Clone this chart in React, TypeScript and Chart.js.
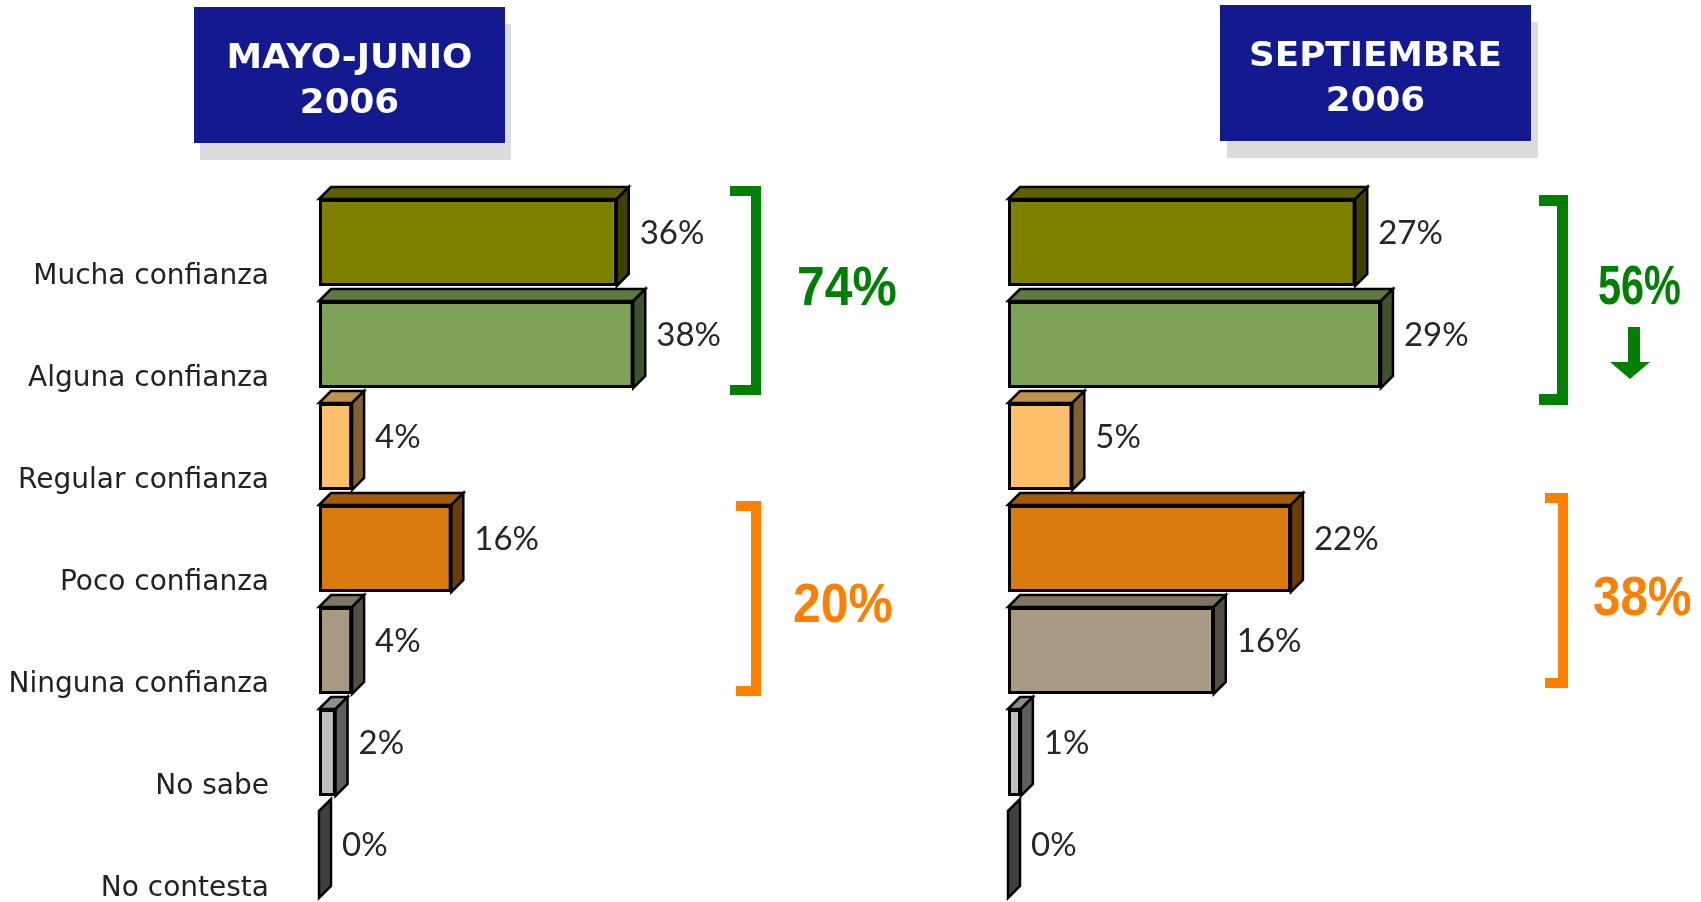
import React, { useEffect, useRef } from "react";
import { Chart, registerables } from "chart.js";

Chart.register(...registerables);

// ---------- data ----------
const categories = [
  "Mucha confianza",
  "Alguna confianza",
  "Regular confianza",
  "Poco confianza",
  "Ninguna confianza",
  "No sabe",
  "No contesta",
];
const mayoJunioValues = [36, 38, 4, 16, 4, 2, 0];
const septiembreValues = [27, 29, 5, 22, 16, 1, 0];
const mayoJunioTitle = ["MAYO-JUNIO", "2006"];
const septiembreTitle = ["SEPTIEMBRE", "2006"];
const mayoJunioTotals = ["74%", "20%"];
const septiembreTotals = ["56%", "38%"];

// ---------- styles ----------
const frontColors = ["#808000", "#7EA356", "#FFC06C", "#D97A10", "#A89A82", "#BEBEBE", "#404040"];
const topColors = ["#5F5F00", "#5E7A40", "#C0904F", "#A35B0C", "#7E7462", "#8E8E8E", "#404040"];
const sideColors = ["#404000", "#3F5230", "#806030", "#6C3D08", "#544D41", "#5F5F5F", "#404040"];
const GREEN = "#008000";
const ORANGE = "#FF8000";
const BOX_BLUE = "#13198F";
const SHADOW = "#DCDCDC";
const CANVAS_H = 906;
const PLOT_TOP = 191.5;
const ROW_H = 102;
const DEPTH = 12;

type Bracket = { color: string; top: number; bottom: number; right: number; armLeft: number; t: number };
type Total = { text: string; color: string; x: number; y: number; sx: number };
type Panel = {
  values: number[];
  title: string[];
  canvasLeft: number;
  canvasWidth: number;
  plotLeft: number;
  pxPerUnit: number;
  xMax: number;
  showCategories: boolean;
  box: { x: number; y: number; w: number; h: number; sx: number; sy: number };
  brackets: Bracket[];
  totals: Total[];
  arrow: boolean;
};

const panels: Panel[] = [
  {
    values: mayoJunioValues,
    title: mayoJunioTitle,
    canvasLeft: 0,
    canvasWidth: 960,
    plotLeft: 319,
    pxPerUnit: 8.27,
    xMax: 50,
    showCategories: true,
    box: { x: 194, y: 7, w: 311, h: 136, sx: 6, sy: 17 },
    brackets: [
      { color: GREEN, top: 186, bottom: 395, right: 761, armLeft: 730, t: 10 },
      { color: ORANGE, top: 501, bottom: 696, right: 761, armLeft: 736, t: 10 },
    ],
    totals: [
      { text: mayoJunioTotals[0], color: GREEN, x: 797, y: 305, sx: 0.89 },
      { text: mayoJunioTotals[1], color: ORANGE, x: 793, y: 622, sx: 0.89 },
    ],
    arrow: false,
  },
  {
    values: septiembreValues,
    title: septiembreTitle,
    canvasLeft: 880,
    canvasWidth: 821,
    plotLeft: 1008,
    pxPerUnit: 12.86,
    xMax: 30,
    showCategories: false,
    box: { x: 1220, y: 5, w: 311, h: 136, sx: 7, sy: 17 },
    brackets: [
      { color: GREEN, top: 195, bottom: 405, right: 1568, armLeft: 1539, t: 11 },
      { color: ORANGE, top: 493, bottom: 688, right: 1568, armLeft: 1545, t: 10 },
    ],
    totals: [
      { text: septiembreTotals[0], color: GREEN, x: 1598, y: 304, sx: 0.74 },
      { text: septiembreTotals[1], color: ORANGE, x: 1593, y: 615, sx: 0.88 },
    ],
    arrow: true,
  },
];

function drawText(
  ctx: CanvasRenderingContext2D,
  text: string,
  x: number,
  y: number,
  font: string,
  color: string,
  align: CanvasTextAlign,
  sx = 1
) {
  ctx.save();
  ctx.font = font;
  ctx.fillStyle = color;
  ctx.textAlign = align;
  ctx.textBaseline = "alphabetic";
  ctx.translate(x, y);
  ctx.scale(sx, 1);
  ctx.fillText(text, 0, 0);
  ctx.restore();
}

function poly(ctx: CanvasRenderingContext2D, pts: number[][], fill: string) {
  ctx.beginPath();
  ctx.moveTo(pts[0][0], pts[0][1]);
  for (let k = 1; k < pts.length; k++) ctx.lineTo(pts[k][0], pts[k][1]);
  ctx.closePath();
  ctx.fillStyle = fill;
  ctx.fill();
  ctx.lineWidth = 2.5;
  ctx.strokeStyle = "#000";
  ctx.lineJoin = "miter";
  ctx.stroke();
}

function makePlugin(panel: Panel) {
  const ox = panel.canvasLeft;
  return {
    id: "panelDecor" + ox,
    afterDatasetsDraw(chart: any) {
      const ctx: CanvasRenderingContext2D = chart.ctx;
      const meta = chart.getDatasetMeta(0);
      meta.data.forEach((el: any, i: number) => {
        const { x, y, base, height } = el.getProps(["x", "y", "base", "height"], true);
        const left = Math.min(base, x);
        const right = Math.max(base, x);
        const top = y - height / 2;
        const bottom = y + height / 2;
        const d = DEPTH;
        if (right - left > 0.5) {
          poly(ctx, [[left, top], [left + d, top - d], [right + d, top - d], [right, top]], topColors[i]);
        }
        poly(ctx, [[right, top], [right + d, top - d], [right + d, bottom - d], [right, bottom]], sideColors[i]);
        drawText(ctx, panel.values[i] + "%", right + d + 11, y + 1, "33px Lato", "#262626", "left");
        if (panel.showCategories) {
          drawText(ctx, categories[i], chart.chartArea.left - 50, y + 41, "28px 'DejaVu Sans'", "#222", "right");
        }
      });
    },
    afterDraw(chart: any) {
      const ctx: CanvasRenderingContext2D = chart.ctx;
      const b = panel.box;
      ctx.save();
      ctx.fillStyle = SHADOW;
      ctx.fillRect(b.x + b.sx - ox, b.y + b.sy, b.w, b.h);
      ctx.fillStyle = BOX_BLUE;
      ctx.fillRect(b.x - ox, b.y, b.w, b.h);
      ctx.restore();
      const cx = b.x - ox + b.w / 2;
      drawText(ctx, panel.title[0], cx, b.y + 61, "bold 34px 'DejaVu Sans'", "#fff", "center", 1.05);
      drawText(ctx, panel.title[1], cx, b.y + 106, "bold 34px 'DejaVu Sans'", "#fff", "center", 1.05);

      panel.brackets.forEach((br) => {
        ctx.save();
        ctx.fillStyle = br.color;
        ctx.fillRect(br.right - br.t - ox, br.top, br.t, br.bottom - br.top);
        ctx.fillRect(br.armLeft - ox, br.top, br.right - br.armLeft, br.t);
        ctx.fillRect(br.armLeft - ox, br.bottom - br.t, br.right - br.armLeft, br.t);
        ctx.restore();
      });
      panel.totals.forEach((t) => {
        drawText(ctx, t.text, t.x - ox, t.y, "bold 56px 'Liberation Sans'", t.color, "left", t.sx);
      });
      if (panel.arrow) {
        ctx.save();
        ctx.fillStyle = GREEN;
        ctx.fillRect(1628 - ox, 327, 12, 37);
        ctx.beginPath();
        ctx.moveTo(1610 - ox, 362);
        ctx.lineTo(1650 - ox, 362);
        ctx.lineTo(1630 - ox, 379);
        ctx.closePath();
        ctx.fill();
        ctx.restore();
      }
    },
  };
}

function PanelChart({ panel }: { panel: Panel }) {
  const ref = useRef<HTMLCanvasElement>(null);
  useEffect(() => {
    const canvas = ref.current;
    if (!canvas) return;
    const padLeft = panel.plotLeft - panel.canvasLeft;
    const padRight = panel.canvasWidth - padLeft - panel.xMax * panel.pxPerUnit;
    const padBottom = CANVAS_H - PLOT_TOP - categories.length * ROW_H;
    const chart = new Chart(canvas, {
      type: "bar",
      data: {
        labels: categories,
        datasets: [
          {
            data: panel.values,
            backgroundColor: frontColors,
            borderColor: "#000",
            borderWidth: 3,
            borderSkipped: false,
            barPercentage: 87 / 102,
            categoryPercentage: 1,
          } as any,
        ],
      },
      options: {
        indexAxis: "y",
        responsive: false,
        animation: false,
        devicePixelRatio: 1,
        layout: { padding: { left: padLeft, right: padRight, top: PLOT_TOP, bottom: padBottom } },
        scales: {
          x: { type: "linear", min: 0, max: panel.xMax, display: false, grid: { display: false } },
          y: { type: "category", display: false, grid: { display: false } },
        },
        plugins: { legend: { display: false }, tooltip: { enabled: false }, title: { display: false } },
        events: [],
      },
      plugins: [makePlugin(panel)],
    });
    return () => chart.destroy();
  }, [panel]);
  return (
    <canvas
      ref={ref}
      width={panel.canvasWidth}
      height={CANVAS_H}
      style={{ position: "absolute", left: panel.canvasLeft, top: 0, width: panel.canvasWidth, height: CANVAS_H, display: "block" }}
    />
  );
}

export default function App() {
  return (
    <div
      style={{
        position: "fixed",
        left: 0,
        top: 0,
        width: 1701,
        height: 902,
        overflow: "hidden",
        background: "#fff",
      }}
    >
      {panels.map((p, i) => (
        <PanelChart key={i} panel={p} />
      ))}
    </div>
  );
}
